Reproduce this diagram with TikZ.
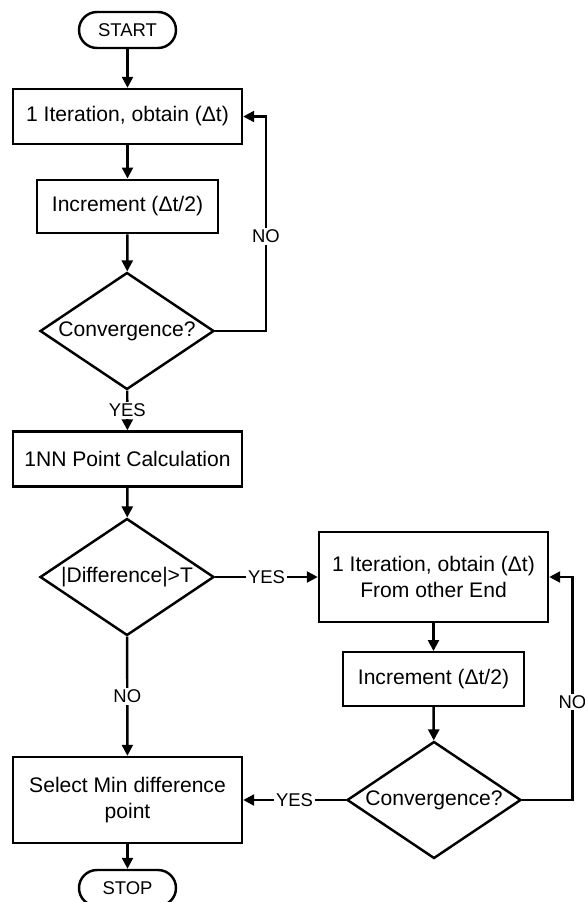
\documentclass[tikz,border=0pt]{standalone}
\usepackage{fontspec}
\setmainfont{Liberation Sans}
\usetikzlibrary{shapes.geometric, arrows.meta, positioning}

\begin{document}
\begin{tikzpicture}[
    proc/.style={draw, rectangle, line width=1.4pt, minimum width=4.58cm, minimum height=1.10cm, align=center, font=\fontsize{12}{14.5}\selectfont, inner sep=2pt},
    sproc/.style={proc, minimum width=3.62cm, minimum height=1.07cm},
    term/.style={draw, rectangle, rounded corners=0.36cm, line width=1.4pt, minimum width=1.94cm, minimum height=0.72cm, font=\fontsize{10.5}{12}\selectfont},
    dec/.style={draw, diamond, aspect=1.49, line width=1.4pt, minimum width=3.48cm, minimum height=2.34cm, inner sep=0pt, font=\fontsize{12}{14.5}\selectfont},
    arr/.style={-{Triangle[length=2.2mm, width=2.2mm]}, line width=1.4pt},
    lab/.style={font=\fontsize{10.5}{12}\selectfont, fill=white, inner sep=1pt}]
    \useasboundingbox (0,0) rectangle (11.7,-18.04);
    % left column
    \node[term] (start) at (2.55,-0.60) {START};
    \node[proc] (it1) at (2.55,-2.33) {1 Iteration, obtain (Δt)};
    \node[sproc] (inc1) at (2.55,-4.13) {Increment (Δt/2)};
    \node[dec] (cv1) at (2.54,-6.62) {Convergence?};
    \node[proc] (nn) at (2.55,-9.18) {1NN Point Calculation};
    \node[dec] (dif) at (2.54,-11.54) {|Difference|>T};
    \node[proc, minimum height=1.72cm] (sel) at (2.55,-16.0) {Select Min difference\\point};
    \node[term] (stop) at (2.55,-17.76) {STOP};
    % right column
    \node[proc, minimum height=1.80cm] (it2) at (8.67,-11.54) {1 Iteration, obtain (Δt)\\From other End};
    \node[sproc] (inc2) at (8.67,-13.58) {Increment (Δt/2)};
    \node[dec] (cv2) at (8.68,-16.0) {Convergence?};
    % loop columns
    \coordinate (no1) at (5.32,0);
    \coordinate (no2) at (11.45,0);
    \draw[arr] (start) -- (it1);
    \draw[arr] (it1) -- (inc1);
    \draw[arr] (inc1) -- (cv1);
    \draw[arr] (cv1.east) -- (cv1.east -| no1) |- node[lab, pos=0.22] {NO} (it1.east);
    \draw[arr] (cv1) -- node[lab] {YES} (nn);
    \draw[arr] (nn) -- (dif);
    \draw[arr] (dif) -- node[lab] {YES} (it2);
    \draw[arr] (dif) -- node[lab] {NO} (sel);
    \draw[arr] (it2) -- (inc2);
    \draw[arr] (inc2) -- (cv2);
    \draw[arr] (cv2.east) -- (cv2.east -| no2) |- node[lab, pos=0.22] {NO} (it2.east);
    \draw[arr] (cv2) -- node[lab] {YES} (sel);
    \draw[arr] (sel) -- (stop);
\end{tikzpicture}
\end{document}
